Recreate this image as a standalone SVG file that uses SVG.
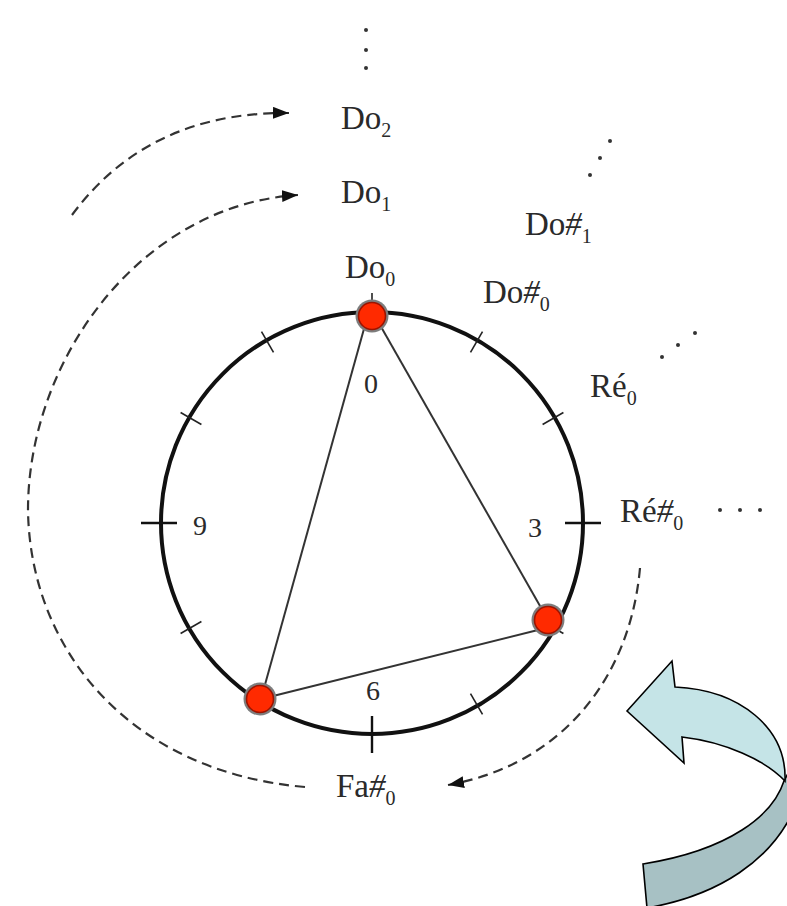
<svg xmlns="http://www.w3.org/2000/svg" width="787" height="906" viewBox="0 0 787 906">
<style>
.ring{fill:none;stroke:#111;stroke-width:4}
.tick{stroke:#222;stroke-width:1.6}
.major{stroke:#111;stroke-width:2.4}
.edge{stroke:#333;stroke-width:2;fill:none}
.dash{stroke:#333;stroke-width:2.2;fill:none;stroke-dasharray:10 6}
.lbl{font-family:"Liberation Serif","Times New Roman",serif;font-size:33px;fill:#2a2a2a}
.sub{font-size:20px}
.num{font-family:"Liberation Serif","Times New Roman",serif;font-size:28px;fill:#2a2a2a;text-anchor:middle}
.dot{fill:#333}
.halo{fill:#7d7d7d}
.red{fill:#ff2a00;stroke:#9c1400;stroke-width:1.6}
.arrowLight{fill:#c5e4e7;stroke:#000;stroke-width:1.6;stroke-linejoin:miter}
.arrowDark{fill:#a7c1c4;stroke:#000;stroke-width:1.6}
</style>
<defs>
<marker id="ah" markerUnits="userSpaceOnUse" markerWidth="18" markerHeight="14" refX="16" refY="6" orient="auto">
<path d="M0,0 L16,6 L0,12 Z" fill="#111"/>
</marker>
</defs>
<rect width="787" height="906" fill="#fff"/>

<g id="pitch-circle">
<circle class="ring" cx="372" cy="523" r="211"/>
<line class="tick" x1="470.5" y1="352.4" x2="482.5" y2="331.6"/>
<line class="tick" x1="542.6" y1="424.5" x2="563.4" y2="412.5"/>
<line class="tick" x1="542.6" y1="621.5" x2="563.4" y2="633.5"/>
<line class="tick" x1="470.5" y1="693.6" x2="482.5" y2="714.4"/>
<line class="tick" x1="273.5" y1="693.6" x2="261.5" y2="714.4"/>
<line class="tick" x1="201.4" y1="621.5" x2="180.6" y2="633.5"/>
<line class="tick" x1="201.4" y1="424.5" x2="180.6" y2="412.5"/>
<line class="tick" x1="273.5" y1="352.4" x2="261.5" y2="331.6"/>
<line class="tick" x1="372" y1="326" x2="372" y2="293"/>
<line class="major" x1="565" y1="523" x2="601" y2="523"/>
<line class="major" x1="141" y1="523" x2="177" y2="523"/>
<line class="major" x1="372" y1="716" x2="372" y2="753"/>
<text class="num" x="371" y="393">0</text>
<text class="num" x="535" y="537">3</text>
<text class="num" x="373" y="700">6</text>
<text class="num" x="200" y="535">9</text>
</g>

<g id="connectors">
<line class="edge" x1="367" y1="318" x2="261" y2="699"/>
<line class="edge" x1="376" y1="318" x2="548" y2="620"/>
<line class="edge" x1="261" y1="699" x2="546" y2="628"/>
<path class="dash" d="M72,215 C120,150 190,112 289,113" marker-end="url(#ah)"/>
<path class="dash" d="M305,787 C130,772 30,650 28,510 C28,360 140,205 298,195" marker-end="url(#ah)"/>
<path class="dash" d="M640,568 C630,680 560,765 448,785" marker-end="url(#ah)"/>
</g>

<g id="node-do0"><circle class="halo" cx="372" cy="316" r="16.5"/><circle class="red" cx="372" cy="316" r="13.5"/></g>
<g id="node-mi0"><circle class="halo" cx="548" cy="620" r="16.5"/><circle class="red" cx="548" cy="620" r="13.5"/></g>
<g id="node-sol0"><circle class="halo" cx="260" cy="699" r="16.5"/><circle class="red" cx="260" cy="699" r="13.5"/></g>

<g id="label-do2"><text class="lbl" x="341" y="129">Do<tspan class="sub" dy="8">2</tspan></text></g>
<g id="label-do1"><text class="lbl" x="341" y="203">Do<tspan class="sub" dy="8">1</tspan></text></g>
<g id="label-do0"><text class="lbl" x="345" y="278">Do<tspan class="sub" dy="8">0</tspan></text></g>
<g id="label-dos1"><text class="lbl" x="525" y="235">Do<tspan font-style="italic">#</tspan><tspan class="sub" dy="8">1</tspan></text></g>
<g id="label-dos0"><text class="lbl" x="483" y="303">Do<tspan font-style="italic">#</tspan><tspan class="sub" dy="8">0</tspan></text></g>
<g id="label-re0"><text class="lbl" x="590" y="397">Ré<tspan class="sub" dy="8">0</tspan></text></g>
<g id="label-res0"><text class="lbl" x="620" y="522">Ré<tspan font-style="italic">#</tspan><tspan class="sub" dy="8">0</tspan></text></g>
<g id="label-fas0"><text class="lbl" x="336" y="797">Fa<tspan font-style="italic">#</tspan><tspan class="sub" dy="8">0</tspan></text></g>

<g id="ellipses">
<circle class="dot" cx="366" cy="30" r="2"/><circle class="dot" cx="366" cy="50" r="2"/><circle class="dot" cx="366" cy="68" r="2"/>
<circle class="dot" cx="610" cy="141" r="2"/><circle class="dot" cx="600" cy="158" r="2"/><circle class="dot" cx="590" cy="175" r="2"/>
<circle class="dot" cx="695" cy="333" r="2"/><circle class="dot" cx="678" cy="345" r="2"/><circle class="dot" cx="662" cy="357" r="2"/>
<circle class="dot" cx="720" cy="510" r="2"/><circle class="dot" cx="740" cy="510" r="2"/><circle class="dot" cx="760" cy="510" r="2"/>
</g>

<g id="curved-arrow">
<path class="arrowDark" d="M784,781 C773,815 730,850 643,864 L647,908 C715,896 775,862 798,800 L795,760 Z"/>
<path class="arrowLight" d="M627,711 L672,661 L675,687 C740,690 787,728 785,781 C765,760 725,742 682,737 L684,763 Z"/>
</g>
</svg>
